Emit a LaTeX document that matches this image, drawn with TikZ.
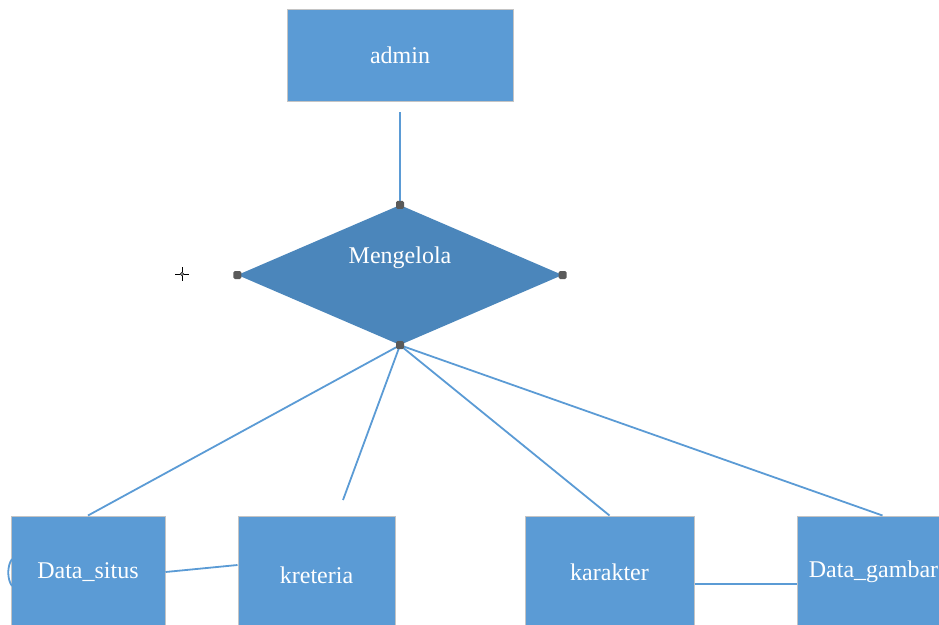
\documentclass[tikz,border=0pt]{standalone}
\usepackage{fontspec}
\setmainfont{Liberation Serif}
\newfontfamily\labelfont{Liberation Serif}
\usetikzlibrary{shapes.geometric,calc}
\definecolor{boxblue}{HTML}{5B9BD5}
\definecolor{diablue}{HTML}{4B86BB}
\definecolor{edgegray}{HTML}{C4C4C4}
\definecolor{handle}{HTML}{5A5A5A}
\tikzset{
  entity/.style={rectangle, fill=boxblue, draw=edgegray, line width=1pt,
    inner sep=0pt, text=white, font=\labelfont\fontsize{24}{28}\selectfont},
  relation/.style={diamond, fill=diablue, inner sep=0pt,
    minimum width=325pt, minimum height=140pt},
  rellabel/.style={text=white, font=\labelfont\fontsize{24}{28}\selectfont},
  link/.style={draw=boxblue, line width=1.8pt},
  handlept/.style={fill=handle, rounded corners=1.5pt},
}
\begin{document}
\begin{tikzpicture}[x=1pt,y=-1pt]
  \useasboundingbox (0,0) rectangle (939,624);
  \clip (0,0) rectangle (939,624);

  % entities
  \node[entity, minimum width=226pt, minimum height=92pt] (admin) at (400,55) {admin};
  \node[entity, minimum width=154pt, minimum height=112pt] (ds) at (88,572) {Data\_situs};
  \node[entity, minimum width=157pt, minimum height=118pt] (kr) at (316.5,575) {kreteria};
  \node[entity, minimum width=169pt, minimum height=112pt] (ka) at (609.5,572) {karakter};
  \node[entity, minimum width=153pt, minimum height=112pt] (dg) at (873.5,572) {Data\_gambar};

  % relationship
  \node[relation] (rel) at (400,275) {};
  \node[rellabel] (rellbl) at (400,258) {Mengelola};

  % connectors
  \coordinate (adminlow) at (400,112);
  \coordinate (krend) at (343,500);
  \draw[link] (adminlow) -- (rel.north);
  \draw[link] (rel.south) -- (ds.north);
  \draw[link] (rel.south) -- (krend);
  \draw[link] (rel.south) -- (ka.north);
  \draw[link] (rel.south) -- ($(dg.north)+(9,0)$);
  \draw[link] (ds.east) -- ([yshift=10pt]kr.west);
  \draw[link] ([yshift=-12pt]ka.east) -- ([yshift=-12pt]dg.west);

  % selection handles on the diamond
  \foreach \a in {north,south,east,west}
    \fill[handlept] ($(rel.\a)+(-4,-4)$) rectangle ($(rel.\a)+(4,4)$);

  % small arc at the left edge
  \coordinate (arcA) at (12,559);
  \coordinate (arcB) at (12,586);
  \draw[link] (arcA) .. controls (7,566) and (7,579) .. (arcB);

  % cursor cross
  \coordinate (cur) at (182,274);
  \draw[black, line width=0.9pt] ($(cur)+(-7,0)$) -- ($(cur)+(-2,0)$)
    ($(cur)+(2,0)$) -- ($(cur)+(7,0)$)
    ($(cur)+(0,-7)$) -- ($(cur)+(0,-2)$)
    ($(cur)+(0,2)$) -- ($(cur)+(0,7)$);
  \draw[black, line width=0.6pt] (cur) circle (1.6);
\end{tikzpicture}
\end{document}
